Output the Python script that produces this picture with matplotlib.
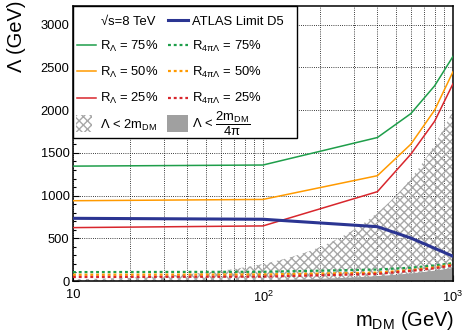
import numpy as np
import matplotlib
matplotlib.use("Agg")
import matplotlib.pyplot as plt
from matplotlib.lines import Line2D
from matplotlib.patches import Rectangle
from matplotlib.ticker import FixedLocator, FixedFormatter, MultipleLocator, NullFormatter

plt.rcParams['font.family'] = ['Liberation Sans', 'DejaVu Sans']
plt.rcParams['mathtext.fontset'] = 'custom'
plt.rcParams['mathtext.rm'] = 'Liberation Sans'
plt.rcParams['mathtext.it'] = 'Liberation Sans'
plt.rcParams['mathtext.bf'] = 'Liberation Sans:bold'
plt.rcParams['hatch.linewidth'] = 1.0
plt.rcParams['hatch.color'] = '#a8a8a8'

# ---------------- data ----------------
mass = [10, 100, 400, 600, 800, 1000]
r_lambda_75 = [1345, 1358, 1680, 1960, 2285, 2630]
r_lambda_50 = [940, 955, 1233, 1602, 2000, 2450]
r_lambda_25 = [625, 645, 1046, 1485, 1870, 2310]
r_4pi_75 = [104, 108, 134, 156, 182, 209]
r_4pi_50 = [73, 76, 98, 127, 159, 195]
r_4pi_25 = [47, 51, 83, 118, 149, 184]
atlas_d5 = [734, 723, 636, 503, 383, 290]

y_ticks = [0, 500, 1000, 1500, 2000, 2500, 3000]
x_ticks = [10, 100, 1000]
x_ticklabels = ['10', r'$10^2$', r'$10^3$']

c_green = '#1e9e4a'
c_orange = '#ff9a00'
c_red = '#d8262c'
c_blue = '#2b3592'
c_gray = '#a0a0a0'
hatch_pat = 'xxxx'

W, H = 462, 333
fig = plt.figure(figsize=(W / 100, H / 100), dpi=100)
ax = fig.add_axes([73 / W, 52 / H, 380 / W, 275 / H])
ax.set_xscale('log')
ax.set_xlim(10, 1000)
ax.set_ylim(0, 3220)

# theoretical validity bounds
m_grid = np.geomspace(10, 1000, 400)
ax.fill_between(m_grid, 0, 2 * m_grid, facecolor='none', edgecolor='#a8a8a8',
                hatch=hatch_pat, linewidth=0, zorder=1)
ax.fill_between(m_grid, 0, 2 * m_grid / (4 * np.pi), color=c_gray, linewidth=0, zorder=2)

# curves
ax.plot(mass, r_lambda_75, color=c_green, lw=1.1, zorder=4)
ax.plot(mass, r_lambda_50, color=c_orange, lw=1.1, zorder=4)
ax.plot(mass, r_lambda_25, color=c_red, lw=1.1, zorder=4)
dash = (0, (1.3, 1.3))
ax.plot(mass, r_4pi_75, color=c_green, lw=1.6, ls=dash, zorder=3)
ax.plot(mass, r_4pi_50, color=c_orange, lw=1.6, ls=dash, zorder=3)
ax.plot(mass, r_4pi_25, color=c_red, lw=1.6, ls=dash, zorder=3)
ax.plot(mass, atlas_d5, color=c_blue, lw=2.2, zorder=5)

# axes styling
ax.yaxis.set_major_locator(FixedLocator(y_ticks))
ax.yaxis.set_minor_locator(MultipleLocator(100))
ax.xaxis.set_major_locator(FixedLocator(x_ticks))
ax.xaxis.set_major_formatter(FixedFormatter(x_ticklabels))
ax.xaxis.set_minor_formatter(NullFormatter())
ax.tick_params(which='both', direction='in', top=False, right=False, labelsize=9.3, width=0.8)
ax.tick_params(which='major', length=4.5)
ax.tick_params(which='minor', length=2.2)
ax.tick_params(axis='y', pad=2.5)
ax.tick_params(axis='x', pad=6)
grid_kw = dict(color='k', linestyle=(0, (1, 1.6)), linewidth=0.6)
ax.grid(True, which='major', axis='y', **grid_kw)
ax.grid(True, which='both', axis='x', **grid_kw)
ax.set_axisbelow(True)
for s in ax.spines.values():
    s.set_linewidth(1.1)

# axis titles
fx = lambda px: px / W
fy = lambda py: 1 - py / H
fig.text(fx(454), fy(326), r'm$_{\rm DM}$ (GeV)', ha='right', va='baseline', fontsize=14.5)
fig.text(fx(16), fy(1), 'Λ (GeV)', ha='center', va='top', rotation=90, fontsize=14.5)

# legend (drawn manually, ROOT style)
leg = Rectangle((fx(73), fy(138)), (297 - 73) / W, (138 - 6) / H, transform=fig.transFigure,
                facecolor='white', edgecolor='black', lw=1.0, zorder=5)
fig.add_artist(leg)
rows = [20.3, 45, 71.3, 97.7, 124]
fs = 9.4
def leg_line(x0, x1, y, **kw):
    fig.add_artist(Line2D([fx(x0), fx(x1)], [fy(y), fy(y)], transform=fig.transFigure, zorder=6, **kw))
def leg_text(x, y, s):
    fig.text(fx(x), fy(y + 4.6), s, ha='left', va='baseline', fontsize=fs, zorder=7)

leg_text(101, rows[0], '√s=8 TeV')
leg_line(168, 188, rows[0], color=c_blue, lw=2.2)
leg_text(192, rows[0], 'ATLAS Limit D5')
for r, col, pct in [(1, c_green, '75%'), (2, c_orange, '50%'), (3, c_red, '25%')]:
    leg_line(77, 96, rows[r], color=col, lw=1.1)
    leg_text(100, rows[r], r'R$_{\Lambda}$ = ' + pct)
    leg_line(168, 188, rows[r], color=col, lw=1.6, ls=dash)
    leg_text(192, rows[r], r'R$_{4\pi\Lambda}$ = ' + pct)

fig.add_artist(Rectangle((fx(76), fy(132)), 16 / W, 17 / H, transform=fig.transFigure,
                         facecolor='white', edgecolor='#a8a8a8', hatch=hatch_pat, lw=0, zorder=6))
leg_text(100, rows[4], r'Λ < 2m$_{\rm DM}$')
fig.add_artist(Rectangle((fx(167), fy(132)), 21 / W, 17 / H, transform=fig.transFigure,
                         facecolor=c_gray, edgecolor='none', lw=0, zorder=6))
leg_text(192, rows[4], r'Λ < $\dfrac{2\mathrm{m}_{\rm DM}}{4\pi}$')

fig.savefig('out.png', dpi=100)
